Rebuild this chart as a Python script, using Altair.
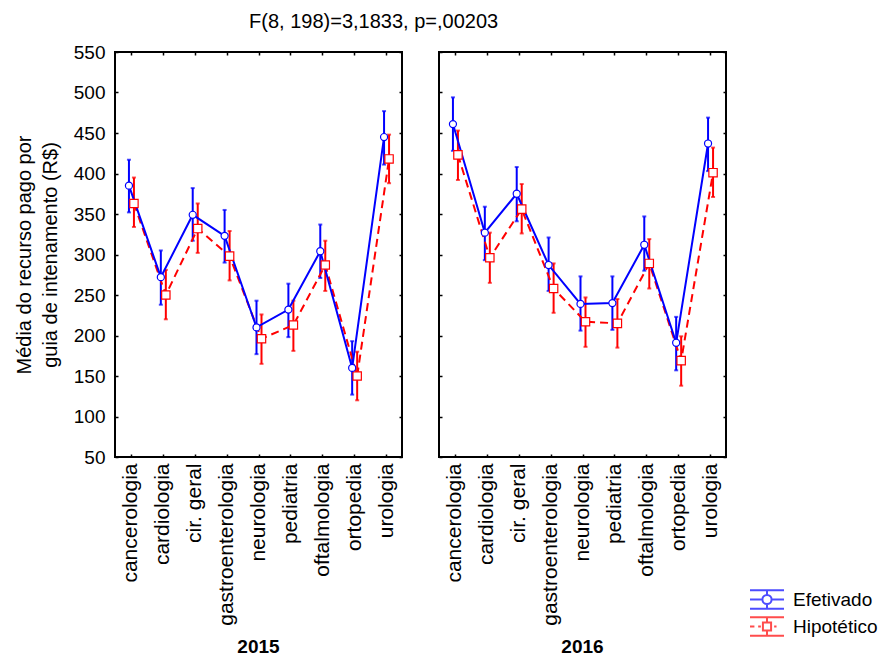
import altair as alt
import pandas as pd

cats = ["cancerologia", "cardiologia", "cir. geral", "gastroenterologia",
        "neurologia", "pediatria", "oftalmologia", "ortopedia", "urologia"]
series_names = ["Efetivado", "Hipotético"]
years = ["2015", "2016"]

ef_2015 = [385, 272, 349, 323, 210, 232, 304, 160, 445]
ef_2015_lo = [352, 238, 317, 290, 177, 198, 271, 127, 411]
ef_2015_hi = [417, 305, 382, 355, 243, 264, 337, 193, 477]
hy_2015 = [363, 250, 332, 298, 196, 213, 287, 150, 418]
hy_2015_lo = [334, 220, 302, 268, 165, 181, 255, 120, 388]
hy_2015_hi = [395, 281, 363, 329, 226, 243, 317, 180, 448]

ef_2016 = [461, 327, 375, 287, 239, 240, 312, 191, 437]
ef_2016_lo = [428, 293, 341, 255, 206, 207, 280, 157, 403]
ef_2016_hi = [494, 359, 408, 321, 273, 273, 347, 223, 469]
hy_2016 = [423, 296, 356, 258, 217, 215, 289, 169, 401]
hy_2016_lo = [392, 265, 326, 228, 186, 185, 258, 138, 371]
hy_2016_hi = [453, 327, 387, 289, 247, 245, 319, 199, 432]

y_ticks = [50, 100, 150, 200, 250, 300, 350, 400, 450, 500, 550]

rows = []
for year, ser, m, lo, hi in [
    ("2015", "Efetivado", ef_2015, ef_2015_lo, ef_2015_hi),
    ("2015", "Hipotético", hy_2015, hy_2015_lo, hy_2015_hi),
    ("2016", "Efetivado", ef_2016, ef_2016_lo, ef_2016_hi),
    ("2016", "Hipotético", hy_2016, hy_2016_lo, hy_2016_hi),
]:
    for c, a, b, d in zip(cats, m, lo, hi):
        rows.append(dict(year=year, series=ser, cat=c, mean=a, lo=b, hi=d))
df = pd.DataFrame(rows)

FONT = "Liberation Sans"
FS = 19
W, H = 287, 405
BLUE = "#0000ff"
RED = "#ff0000"

glyph_ef = ("M-1,-0.54L1,-0.54M-1,0.54L1,0.54"
            "M0,-0.54L0,-0.27M0,0.27L0,0.54"
            "M-1,0L-0.27,0M0.27,0L1,0"
            "M0.27,0A0.27,0.27 0 1,1 -0.27,0A0.27,0.27 0 1,1 0.27,0Z")
glyph_hy = ("M-1,-0.54L1,-0.54M-1,0.54L1,0.54"
            "M0,-0.54L0,-0.24M0,0.24L0,0.54"
            "M-1,0L-0.74,0M-0.52,0L-0.36,0M0.42,0L0.56,0"
            "M-0.24,-0.24L0.24,-0.24L0.24,0.24L-0.24,0.24Z")


def xscale():
    return alt.Scale(type="point", domain=cats, padding=0.5)


def yscale():
    return alt.Scale(domain=[50, 550], nice=False, zero=False)


def panel(year, first, with_legend):
    d = df[df.year == year]
    bottom_axis = alt.Axis(orient="bottom", offset=-3, domain=False, tickSize=3,
                           tickWidth=1.5, tickColor="black", labelAngle=270,
                           labelFontSize=21, labelPadding=6, labelColor="black",
                           labelFont=FONT, grid=False, title=None)
    if first:
        left_axis = alt.Axis(orient="left", offset=-3, domain=False, tickSize=3,
                             tickWidth=1.5, tickColor="black", values=y_ticks,
                             labelFontSize=FS, labelPadding=10, labelColor="black",
                             labelFont=FONT, grid=False,
                             title=["Média do recurso pago por", "guia de intenamento (R$)"],
                             titleFont=FONT, titleFontSize=20, titleFontWeight="normal",
                             titleColor="black", titlePadding=13, titleLineHeight=26)
    else:
        left_axis = alt.Axis(orient="left", offset=-3, domain=False, tickSize=3,
                             tickWidth=1.5, tickColor="black", values=y_ticks,
                             labels=False, grid=False, title=None)
    X = alt.X("cat:N", scale=xscale(), sort=cats, axis=bottom_axis)

    def Y(field):
        return alt.Y(f"{field}:Q", scale=yscale(), axis=left_axis)

    base = alt.Chart(d)
    layers = []
    for ser, col, off in [("Hipotético", RED, 3), ("Efetivado", BLUE, -2)]:
        s = base.transform_filter(alt.datum.series == ser)
        layers.append(s.mark_rule(color=col, strokeWidth=2, xOffset=off)
                      .encode(x=X, y=Y("lo"), y2="hi:Q"))
        layers.append(s.mark_tick(color=col, size=4, thickness=2, xOffset=off,
                                  orient="horizontal").encode(x=X, y=Y("lo")))
        layers.append(s.mark_tick(color=col, size=4, thickness=2, xOffset=off,
                                  orient="horizontal").encode(x=X, y=Y("hi")))
    hy = base.transform_filter(alt.datum.series == "Hipotético")
    ef = base.transform_filter(alt.datum.series == "Efetivado")
    layers.append(hy.mark_line(color=RED, strokeWidth=2, strokeDash=[8, 5], xOffset=3)
                  .encode(x=X, y=Y("mean")))
    layers.append(ef.mark_line(color=BLUE, strokeWidth=2, xOffset=-2)
                  .encode(x=X, y=Y("mean")))
    layers.append(hy.mark_point(shape="square", filled=True, fill="white", stroke=RED,
                                strokeWidth=1.2, size=70, opacity=1, xOffset=3)
                  .encode(x=X, y=Y("mean")))
    layers.append(ef.mark_point(shape="circle", filled=True, fill="white", stroke=BLUE,
                                strokeWidth=1.2, size=50, opacity=1, xOffset=-2)
                  .encode(x=X, y=Y("mean")))
    if with_legend:
        leg = alt.Legend(orient="none", legendX=634, legendY=534, title=None,
                         symbolSize=1156, symbolStrokeWidth=2, clipHeight=27,
                         labelFont=FONT, labelFontSize=FS, labelColor="black",
                         labelOffset=8, rowPadding=0, symbolFillColor="transparent")
        layers.append(base.transform_filter("false")
                      .mark_point(filled=False, strokeWidth=2)
                      .encode(x=X, y=Y("mean"),
                              color=alt.Color("series:N",
                                              scale=alt.Scale(domain=series_names,
                                                              range=[BLUE, RED]),
                                              legend=leg),
                              shape=alt.Shape("series:N",
                                              scale=alt.Scale(domain=series_names,
                                                              range=[glyph_ef, glyph_hy]),
                                              legend=leg)))
    data_layer = alt.layer(*layers)

    top_axis = alt.Axis(orient="top", offset=-3, domain=False, tickSize=3, tickWidth=1.5,
                        tickColor="black", labels=False, grid=False, title=None)
    right_axis = alt.Axis(orient="right", offset=-3, domain=False, tickSize=3,
                          tickWidth=1.5, tickColor="black", values=y_ticks,
                          labels=False, grid=False, title=None)
    frame_ticks = base.mark_point(opacity=0).encode(
        x=alt.X("cat:N", scale=xscale(), sort=cats, axis=top_axis),
        y=alt.Y("mean:Q", scale=yscale(), axis=right_axis),
    )
    return (alt.layer(data_layer, frame_ticks)
            .resolve_scale(x="independent", y="independent")
            .properties(width=W, height=H,
                        title=alt.TitleParams(year, orient="bottom", font=FONT,
                                              fontSize=FS, fontWeight="bold",
                                              color="black", offset=13)))


chart = (alt.hconcat(panel("2015", True, False), panel("2016", False, True), spacing=33)
         .properties(title=alt.TitleParams("F(8, 198)=3,1833, p=,00203", font=FONT,
                                           fontSize=20, fontWeight="normal",
                                           color="black", anchor="middle", offset=10,
                                           dx=-72),
                     padding={"left": 5, "top": 4, "right": 0, "bottom": 0})
         .configure_view(stroke="black", strokeWidth=2))

chart.save("out.html", embed_options={"renderer": "svg", "actions": False})
